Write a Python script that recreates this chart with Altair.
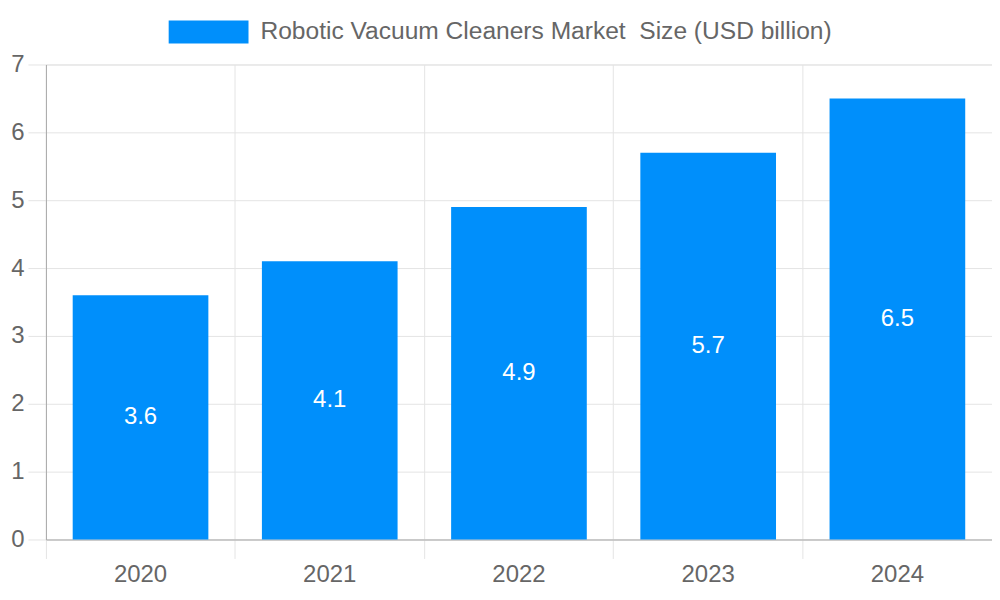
import altair as alt
import pandas as pd

years = ["2020", "2021", "2022", "2023", "2024"]
values = [3.6, 4.1, 4.9, 5.7, 6.5]
series_name = "Robotic Vacuum Cleaners Market\u00a0 Size (USD billion)"
y_ticks = [0, 1, 2, 3, 4, 5, 6, 7]

df = pd.DataFrame({"year": years, "value": values, "series": [series_name] * len(years)})

W, H = 948, 476
FONT = "Liberation Sans"
BLUE = "#008ffb"
GRID = "#e4e4e4"
P_IN = 0.283
P_OUT = P_IN / 2

base = alt.Chart(df)

bars = base.mark_bar(color=BLUE).encode(
    x=alt.X(
        "year:N",
        sort=years,
        scale=alt.Scale(paddingInner=P_IN, paddingOuter=P_OUT),
        axis=alt.Axis(
            title=None,
            bandPosition=-P_OUT / (1 - P_IN),
            grid=True,
            gridColor=GRID,
            tickColor=GRID,
            tickSize=19,
            domainColor="#aaaaaa",
            labelFont=FONT,
            labelFontSize=24,
            labelColor="#666666",
            labelPadding=4,
            labelAngle=0,
        ),
    ),
    y=alt.Y(
        "value:Q",
        scale=alt.Scale(domain=[0, 7], nice=False),
        axis=alt.Axis(
            title=None,
            values=y_ticks,
            format="d",
            grid=True,
            gridColor=GRID,
            tickColor=GRID,
            tickSize=18,
            domainColor="#aaaaaa",
            labelFont=FONT,
            labelFontSize=24,
            labelColor="#666666",
            labelPadding=4,
        ),
    ),
    color=alt.Color(
        "series:N",
        scale=alt.Scale(range=[BLUE]),
        legend=alt.Legend(
            title=None,
            orient="none",
            legendX=123,
            legendY=-72.5,
            padding=0,
            symbolType="M-1,-0.2875H1V0.2875H-1Z",
            symbolSize=6400,
            symbolStrokeWidth=0,
            symbolOpacity=1,
            labelFont=FONT,
            labelFontSize=24.6,
            labelColor="#666666",
            labelLimit=1000,
            labelOffset=12,
        ),
    ),
)

labels = base.transform_calculate(mid="datum.value / 2").mark_text(
    color="white", font=FONT, fontSize=24, baseline="middle", align="center"
).encode(
    x=alt.X("year:N", sort=years),
    y=alt.Y("mid:Q"),
    text=alt.Text("value:Q", format=".1f"),
)

chart = (
    alt.layer(bars, labels)
    .properties(
        width=W,
        height=H,
        autosize=alt.AutoSizeParams(type="none"),
        padding={"left": 38, "top": 56, "right": 0, "bottom": 46},
    )
    .configure_view(stroke=GRID, strokeWidth=1)
)

chart.save("out.html", embed_options={"renderer": "svg", "actions": False})
